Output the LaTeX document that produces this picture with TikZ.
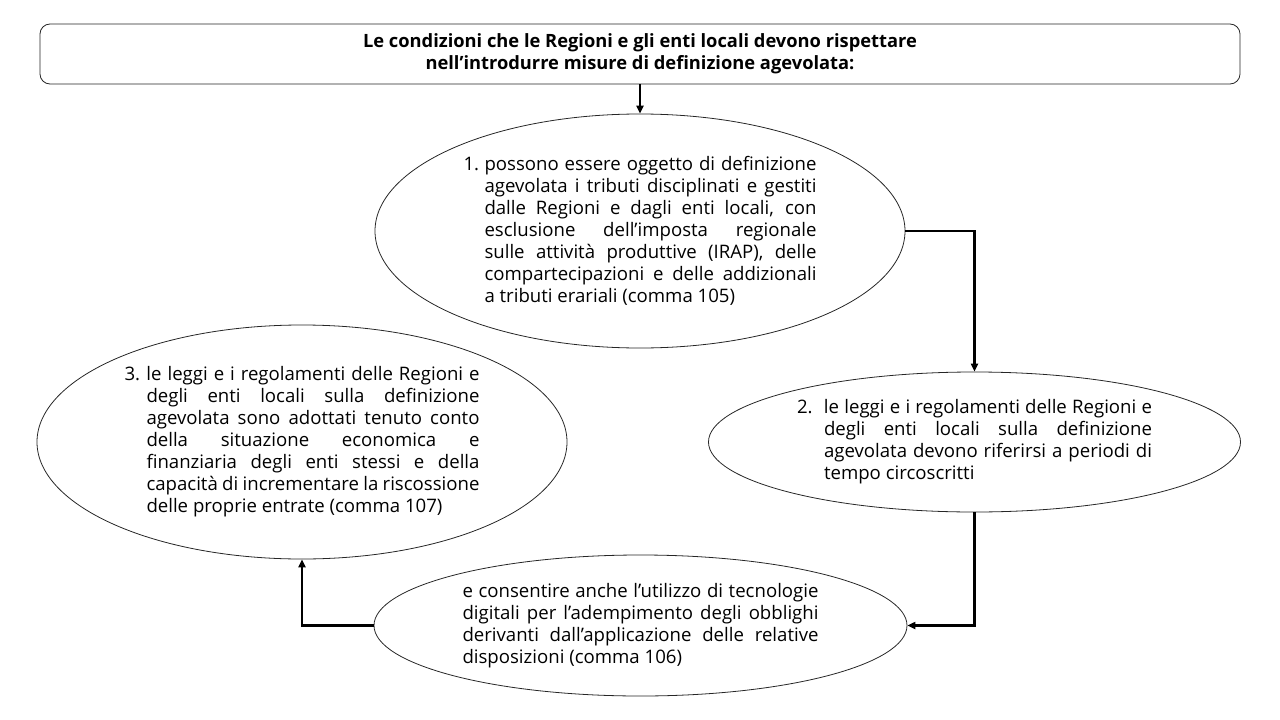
\documentclass[tikz,border=0pt]{standalone}
\usepackage{fontspec}
\setmainfont{Open Sans}
\usetikzlibrary{arrows.meta,shapes.geometric}
\tikzset{
  oval/.style={ellipse, draw=black!85, line width=0.8pt, inner sep=0pt,
    font=\fontsize{18.6}{22}\selectfont},
  flow/.style={line width=2.8pt, -{Triangle[length=8pt,width=7pt]}},
  thinflow/.style={line width=2pt, -{Triangle[length=8pt,width=7pt]}},
  headbox/.style={draw=black!85, rounded corners=10pt, line width=0.8pt,
    minimum width=1200pt, minimum height=60pt, inner sep=0pt,
    font=\bfseries\fontsize{18.3}{22}\selectfont, align=center}
}
\newcommand{\jpar}[3]{\parbox{#1}{\tolerance=10000\hbadness=10000\hfuzz=50pt
  \noindent\hangindent=#2\hangafter=1 #3\par}}
\begin{document}
\begin{tikzpicture}[x=1pt,y=-1pt]
\useasboundingbox (0,0) rectangle (1280,720);
\node[headbox] (head) at (640,54) {Le condizioni che le Regioni e gli enti locali devono rispettare\\nell’introdurre misure di definizione agevolata:};
\node[oval, minimum width=530pt, minimum height=234pt] (e1) at (640,231)
 {\jpar{353pt}{21pt}{\makebox[21pt][l]{1.}possono essere oggetto di definizione\linebreak
 agevolata i tributi disciplinati e gestiti\linebreak
 dalle Regioni e dagli enti locali, con\linebreak
 esclusione dell’imposta regionale\linebreak
 sulle attività produttive (IRAP), delle\linebreak
 compartecipazioni e delle addizionali\linebreak
 a tributi erariali (comma 105)}};
\node[oval, minimum width=532pt, minimum height=140pt] (e2) at (974.5,442)
 {\jpar{355pt}{27pt}{\makebox[27pt][l]{2.}le leggi e i regolamenti delle Regioni e\linebreak
 degli enti locali sulla definizione\linebreak
 agevolata devono riferirsi a periodi di\linebreak
 tempo circoscritti}};
\node[oval, minimum width=530pt, minimum height=234pt] (e3) at (302,442)
 {\jpar{355pt}{22pt}{\makebox[22pt][l]{3.}le leggi e i regolamenti delle Regioni e\linebreak
 degli enti locali sulla definizione\linebreak
 agevolata sono adottati tenuto conto\linebreak
 della situazione economica e\linebreak
 finanziaria degli enti stessi e della\linebreak
 capacità di incrementare la riscossione\linebreak
 delle proprie entrate (comma 107)}};
\node[oval, minimum width=533pt, minimum height=141pt] (e4) at (640.5,625.5)
 {\jpar{356pt}{0pt}{e consentire anche l’utilizzo di tecnologie\linebreak
 digitali per l’adempimento degli obblighi\linebreak
 derivanti dall’applicazione delle relative\linebreak
 disposizioni (comma 106)}};
\draw[thinflow] (head) -- (e1);
\draw[flow] (e1.east) -| (e2.north);
\draw[flow] (e2.south) |- (e4.east);
\draw[flow] (e4.west) -| (e3.south);
\end{tikzpicture}
\end{document}
